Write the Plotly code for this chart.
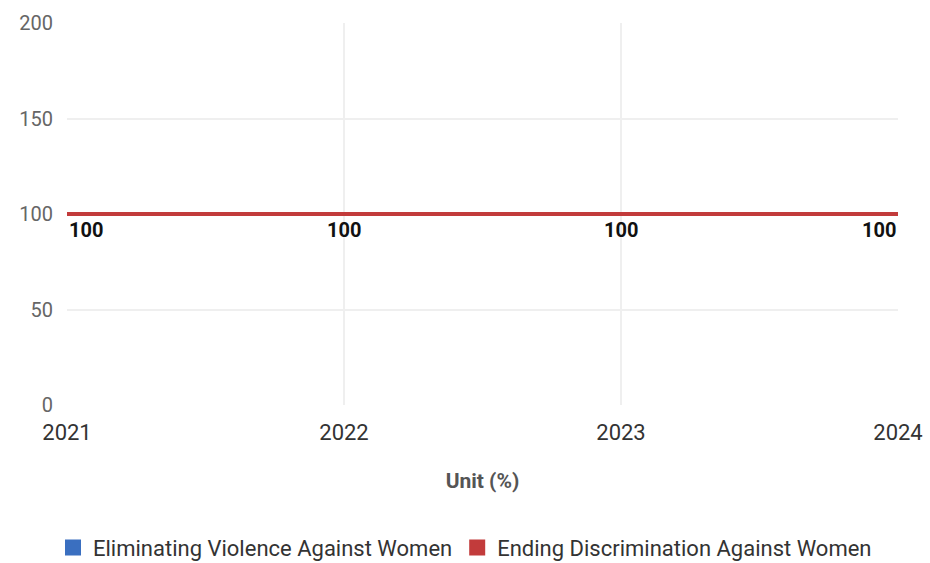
import plotly.graph_objects as go

years = [2021, 2022, 2023, 2024]
violence = [100, 100, 100, 100]
discrimination = [100, 100, 100, 100]
y_ticks = [0, 50, 100, 150, 200]

blue = "#3a6fc0"
red = "#c23b3b"
FONT = "Roboto"
GRID = "#efefef"

fig = go.Figure()
fig.add_trace(go.Scatter(x=years, y=violence, mode="lines", line=dict(color=blue, width=4),
                         showlegend=False, hoverinfo="skip"))
fig.add_trace(go.Scatter(x=years, y=discrimination, mode="lines", line=dict(color=red, width=4),
                         showlegend=False, hoverinfo="skip"))
fig.add_trace(go.Scatter(x=[None], y=[None], mode="markers", name="Eliminating Violence Against Women",
                         marker=dict(symbol="square", size=21, color=blue)))
fig.add_trace(go.Scatter(x=[None], y=[None], mode="markers", name="Ending Discrimination Against Women",
                         marker=dict(symbol="square", size=21, color=red)))

anchors = ["left", "center", "center", "right"]
for i, (yr, v) in enumerate(zip(years, discrimination)):
    fig.add_annotation(x=yr, y=v, xref="x", yref="y", text=f"<b>{v}</b>", showarrow=False,
                       xanchor=anchors[i], yanchor="top", yshift=-2,
                       font=dict(family=FONT, size=20, color="#111"))

fig.update_layout(
    width=930, height=563,
    margin=dict(l=67, r=32, t=23, b=158),
    paper_bgcolor="white", plot_bgcolor="white",
    font=dict(family=FONT, size=20, color="#555"),
    xaxis=dict(range=[years[0], years[-1]], tickvals=years, showgrid=True, gridcolor=GRID, gridwidth=2,
               zeroline=False, showline=False, ticks="", automargin=False,
               ticklabelstandoff=12, tickfont=dict(family=FONT, size=22, color="#333"),
               title=dict(text="<b>Unit (%)</b>", font=dict(family=FONT, size=21, color="#555"), standoff=29)),
    yaxis=dict(range=[0, 200], tickvals=y_ticks, showgrid=True, gridcolor=GRID, gridwidth=2,
               zeroline=False, showline=False, ticks="", automargin=False,
               ticklabelstandoff=13, tickfont=dict(family=FONT, size=20, color="#666")),
    legend=dict(orientation="h", x=0.5, xanchor="center", xref="container",
                y=0.027, yanchor="middle", yref="container",
                font=dict(family=FONT, size=22, color="#333"), itemwidth=30),
    showlegend=True,
)

fig.write_html("out.html", config={"displayModeBar": False},
               post_script="document.body.style.margin='0';document.body.style.overflow='hidden';")
